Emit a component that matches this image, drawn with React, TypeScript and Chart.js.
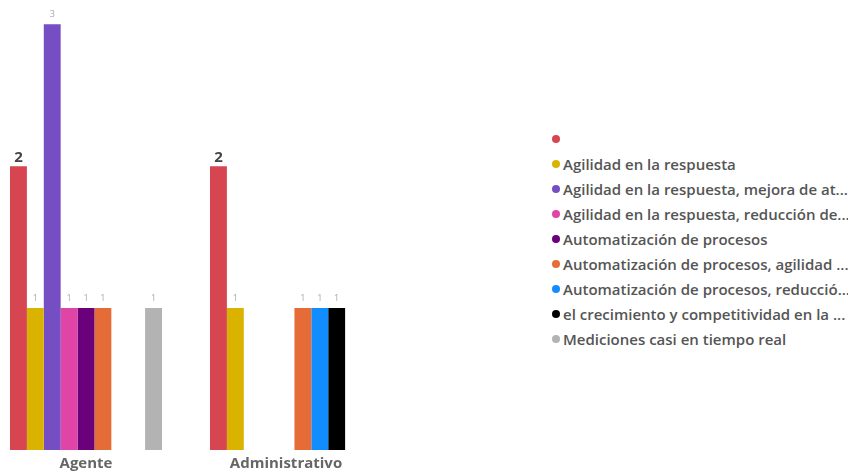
import React, { useEffect, useRef } from "react";
import { Chart, registerables } from "chart.js";

Chart.register(...registerables);

const categories = ["Agente", "Administrativo"];

const seriesLabels = [
  "",
  "Agilidad en la respuesta",
  "Agilidad en la respuesta, mejora de at...",
  "Agilidad en la respuesta, reducción de...",
  "Automatización de procesos",
  "Automatización de procesos, agilidad ...",
  "Automatización de procesos, reducció...",
  "el crecimiento y competitividad en la ...",
  "Mediciones casi en tiempo real",
];

const seriesColors = [
  "#D64550",
  "#D9B300",
  "#744EC2",
  "#E044A7",
  "#6B007B",
  "#E66C37",
  "#118DFF",
  "#000000",
  "#B3B3B3",
];

const seriesValues: (number | null)[][] = [
  [2, 2],
  [1, 1],
  [3, null],
  [1, null],
  [1, null],
  [1, 1],
  [null, 1],
  [null, 1],
  [1, null],
];

const labelPlugin = {
  id: "valueLabels",
  afterDatasetsDraw(chart: any) {
    const ctx = chart.ctx;
    ctx.save();
    ctx.textAlign = "center";
    ctx.textBaseline = "alphabetic";
    chart.data.datasets.forEach((ds: any, di: number) => {
      const meta = chart.getDatasetMeta(di);
      meta.data.forEach((el: any, i: number) => {
        const v = ds.data[i];
        if (v === null || v === undefined) return;
        if (di === 0) {
          ctx.font = "bold 15px 'Open Sans'";
          ctx.fillStyle = "#444444";
          ctx.fillText(String(v), el.x, el.y - 4);
        } else {
          ctx.font = "9px 'Open Sans'";
          ctx.fillStyle = "#a8a8a8";
          ctx.fillText(String(v), el.x, el.y - 7);
        }
      });
    });
    ctx.restore();
  },
};

export default function App() {
  const ref = useRef<HTMLCanvasElement | null>(null);

  useEffect(() => {
    if (!ref.current) return;
    const chart = new Chart(ref.current, {
      type: "bar",
      data: {
        labels: categories,
        datasets: seriesLabels.map((label, i) => ({
          label,
          data: seriesValues[i],
          backgroundColor: seriesColors[i],
          borderWidth: 0,
          barPercentage: 1,
          categoryPercentage: 0.76,
        })),
      },
      options: {
        responsive: false,
        animation: false,
        layout: { padding: { top: 10, left: 0, right: 0, bottom: 0 } },
        plugins: {
          legend: { display: false },
          tooltip: { enabled: false },
        },
        scales: {
          x: {
            grid: { display: false, drawTicks: false },
            border: { display: false },
            ticks: {
              color: "#666666",
              font: { family: "'Open Sans'", size: 15, weight: "bold" },
              padding: 5,
            },
            afterFit: (s: any) => {
              s.height = 25;
            },
          },
          y: {
            display: false,
            min: 0,
            max: 3.1,
          },
        },
      },
      plugins: [labelPlugin],
    });
    return () => chart.destroy();
  }, []);

  return (
    <div
      style={{
        position: "fixed",
        left: 0,
        top: 0,
        width: 848,
        height: 475,
        background: "#ffffff",
        overflow: "hidden",
      }}
    >
      <canvas
        ref={ref}
        width={400}
        height={475}
        style={{ position: "absolute", left: -14, top: 0, width: 400, height: 475 }}
      />
      {seriesLabels.map((label, i) => (
        <div
          key={i}
          style={{
            position: "absolute",
            left: 552,
            top: 139 + i * 25 - 10,
            height: 20,
            display: "flex",
            alignItems: "center",
            whiteSpace: "nowrap",
            fontFamily: "'Open Sans'",
            fontWeight: 600,
            fontSize: 15,
            color: "#555555",
          }}
        >
          <span
            style={{
              display: "inline-block",
              width: 8,
              height: 8,
              borderRadius: "50%",
              background: seriesColors[i],
              marginRight: 3,
            }}
          />
          <span>{label}</span>
        </div>
      ))}
    </div>
  );
}
